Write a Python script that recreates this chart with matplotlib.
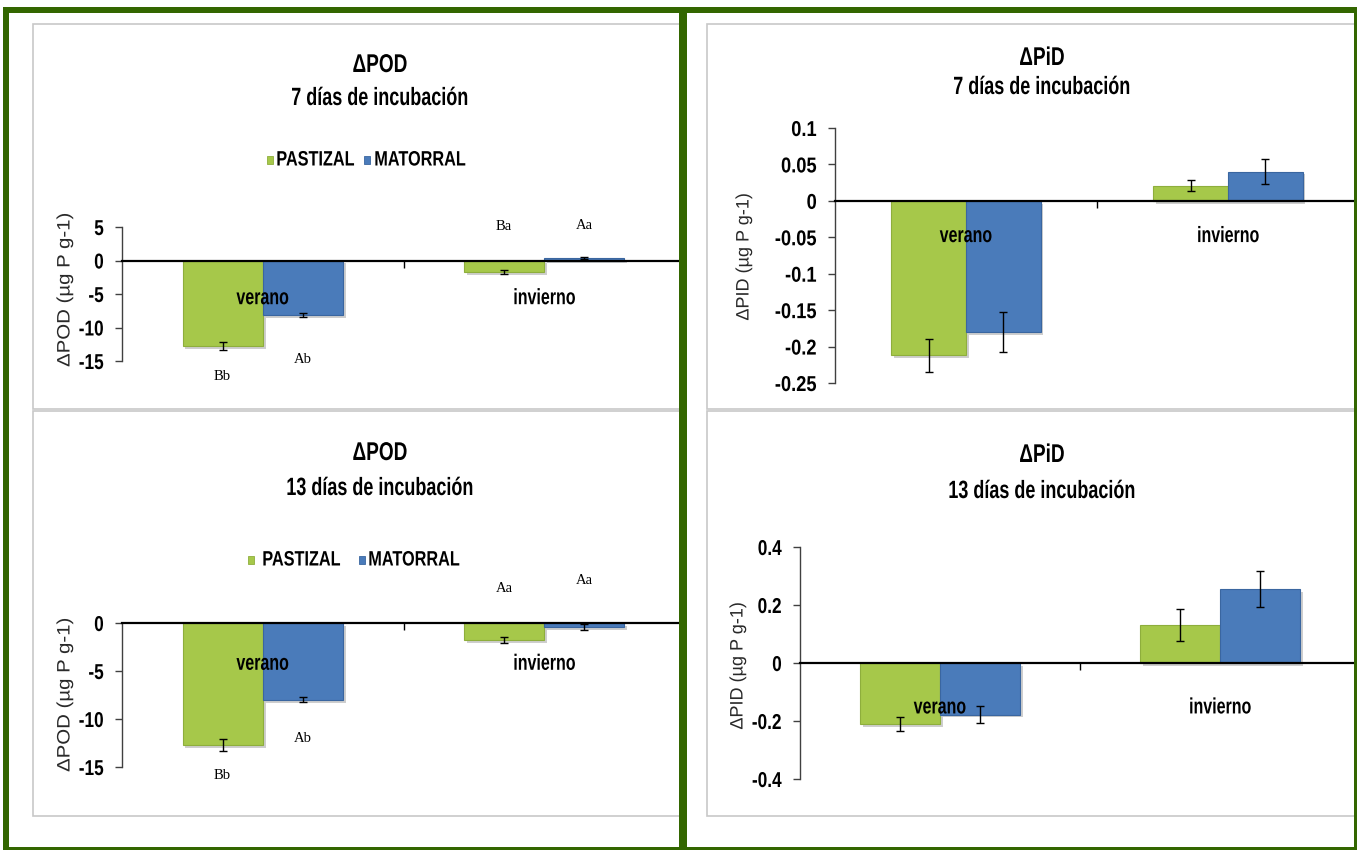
"""
Four Excel-style bar panels: change in POD and PiD after 7 and 13 days
of incubation, pastizal vs matorral, summer and winter.
"""
import numpy as np
import matplotlib
matplotlib.use('Agg')
import matplotlib.pyplot as plt
import matplotlib.patheffects as pe
from matplotlib.patches import Rectangle
from matplotlib.ticker import FuncFormatter
from matplotlib.transforms import Affine2D

W, H = 1357, 850

SANS = ['Liberation Sans', 'DejaVu Sans']
plt.rcParams['font.family'] = SANS
plt.rcParams['font.weight'] = 'bold'

# data
CATEGORIES = ['verano', 'invierno']
SERIES = ['PASTIZAL', 'MATORRAL']

POD7_PASTIZAL = [-12.8, -1.7]
POD7_PASTIZAL_ERR = [0.6, 0.25]
POD7_MATORRAL = [-8.1, 0.4]
POD7_MATORRAL_ERR = [0.3, 0.12]
POD7_LETTERS_PASTIZAL = ['Bb', 'Ba']
POD7_LETTERS_MATORRAL = ['Ab', 'Aa']

POD13_PASTIZAL = [-12.7, -1.8]
POD13_PASTIZAL_ERR = [0.6, 0.3]
POD13_MATORRAL = [-8.0, -0.4]
POD13_MATORRAL_ERR = [0.25, 0.3]
POD13_LETTERS_PASTIZAL = ['Bb', 'Aa']
POD13_LETTERS_MATORRAL = ['Ab', 'Aa']

PID7_PASTIZAL = [-0.212, 0.021]
PID7_PASTIZAL_ERR = [0.023, 0.008]
PID7_MATORRAL = [-0.180, 0.040]
PID7_MATORRAL_ERR = [0.027, 0.017]

PID13_PASTIZAL = [-0.210, 0.130]
PID13_PASTIZAL_ERR = [0.025, 0.055]
PID13_MATORRAL = [-0.178, 0.255]
PID13_MATORRAL_ERR = [0.030, 0.062]

# styles
GREEN = '#a6c84a'
GREEN_EDGE = '#8eae3c'
BLUE = '#4a7bba'
BLUE_EDGE = '#3a66a0'
FRAME = '#336600'
BOX = '#c8c8c8'
BAR_W = 0.285
ERR_KW = dict(ecolor='black', elinewidth=1, capsize=3, capthick=1, zorder=4)
SHADOW = [pe.SimplePatchShadow(offset=(2, -2), shadow_rgbFace='0.45', alpha=0.35),
          pe.Normal()]


class Squeeze(pe.AbstractPathEffect):
    """squash text horizontally, the chart used a narrow font"""

    def __init__(self, sx, anchor='center'):
        super().__init__()
        self.sx = sx
        self.anchor = anchor

    def draw_path(self, renderer, gc, tpath, affine, rgbFace=None):
        ext = tpath.get_extents()
        cx = {'left': ext.x0, 'right': ext.x1}.get(self.anchor,
                                                     (ext.x0 + ext.x1) / 2)
        pre = Affine2D().translate(-cx, 0).scale(self.sx, 1).translate(cx, 0)
        renderer.draw_path(gc, tpath, pre + affine, rgbFace)


fig = plt.figure(figsize=(W / 100, H / 100), dpi=100)


def px_axes(x0, y0, x1, y1):
    return fig.add_axes([x0 / W, 1 - y1 / H, (x1 - x0) / W, (y1 - y0) / H])


def ftext(x, y, s, sx=None, **kw):
    kw.setdefault('ha', 'center')
    t = fig.text(x / W, 1 - y / H, s, va='center', **kw)
    if sx:
        t.set_path_effects([Squeeze(sx, kw['ha'])])
    return t


def title(x, y1, y2, line1, line2):
    ftext(x, y1, line1, sx=0.74, fontsize=18.5)
    ftext(x, y2, line2, sx=0.72, fontsize=18)


def ylabel(x, y, s, sx):
    ftext(x, y, s, sx=sx, fontsize=13, rotation=90, weight='normal',
          color='#2a2a2a')


def legend(y, xs):
    # xs: marker x and text x for each series
    for (mx, tx), name, col, ec in zip(xs, SERIES, [GREEN, BLUE],
                                      [GREEN_EDGE, BLUE_EDGE]):
        fig.add_artist(Rectangle(((mx - 3) / W, 1 - (y + 4) / H), 6 / W,
                                 8 / H, transform=fig.transFigure,
                                 facecolor=col, edgecolor=ec, lw=0.6))
        ftext(tx, y, name, sx=0.78, fontsize=15, ha='left')


def panel(box, ylim, yticks, past, past_err, mato, mato_err, cat_y, tick_sx):
    ax = px_axes(*box)
    x = np.arange(len(CATEGORIES))
    b1 = ax.bar(x - BAR_W / 2, past, BAR_W, yerr=past_err, color=GREEN,
                edgecolor=GREEN_EDGE, linewidth=0.8, error_kw=ERR_KW, zorder=2)
    b2 = ax.bar(x + BAR_W / 2, mato, BAR_W, yerr=mato_err, color=BLUE,
                edgecolor=BLUE_EDGE, linewidth=0.8, error_kw=ERR_KW, zorder=2)
    for p in list(b1) + list(b2):
        p.set_path_effects(SHADOW)

    ax.set_xlim(-0.5, 1.5)
    ax.set_ylim(*ylim)
    ax.set_yticks(yticks)
    ax.yaxis.set_major_formatter(FuncFormatter(lambda v, pos: f'{v:g}'))
    ax.tick_params(axis='y', direction='out', length=5, width=1,
                   color='#404040', labelsize=15.5, pad=8)
    for lbl in ax.get_yticklabels():
        lbl.set_path_effects([Squeeze(tick_sx, 'right')])
    ax.set_xticks([])
    for side in ['top', 'right', 'bottom']:
        ax.spines[side].set_visible(False)
    ax.spines['left'].set_color('#404040')
    ax.spines['left'].set_linewidth(1)
    ax.patch.set_alpha(0)

    # horizontal category axis through zero
    ax.axhline(0, color='black', lw=1.6, zorder=3, clip_on=False)
    ax.plot([0.5, 1.5], [0, 0], ls='none', marker=3, ms=5, mew=1,
            color='black', clip_on=False, zorder=3)
    for i, cat in enumerate(CATEGORIES):
        t = ax.text(i, cat_y, cat, ha='center', va='center', fontsize=16,
                    zorder=5, clip_on=False)
        t.set_path_effects([Squeeze(0.72)])
    return ax


def letters(ax, past_lbl, mato_lbl, past_y, mato_y):
    for i in range(len(CATEGORIES)):
        ax.text(i - BAR_W / 2, past_y[i], past_lbl[i], ha='center',
                va='center', fontsize=10.5, family='Liberation Serif',
                weight='normal', clip_on=False)
        ax.text(i + BAR_W / 2, mato_y[i], mato_lbl[i], ha='center',
                va='center', fontsize=10.5, family='Liberation Serif',
                weight='normal', clip_on=False)


# light grey chart boxes
for (x0, y0, x1, y1) in [(33, 24, 683, 409), (33, 411, 683, 816),
                         (707, 24, 1356, 409), (707, 411, 1356, 816)]:
    fig.add_artist(Rectangle((x0 / W, 1 - y1 / H), (x1 - x0) / W,
                             (y1 - y0) / H, transform=fig.transFigure,
                             facecolor='white', edgecolor=BOX, lw=1.2,
                             zorder=-1))

# top left: POD 7 days
ax = panel((122, 227, 685, 361), (-15, 5), [5, 0, -5, -10, -15],
           POD7_PASTIZAL, POD7_PASTIZAL_ERR,
           POD7_MATORRAL, POD7_MATORRAL_ERR, -5.7, 0.8)
letters(ax, POD7_LETTERS_PASTIZAL, POD7_LETTERS_MATORRAL,
        [-17.3, 5.0], [-14.8, 5.2])
title(380, 65, 98, '\u0394POD', '7 días de incubación')
legend(160, [(270, 276), (367, 374)])
ylabel(65, 290, '\u0394POD (µg P g-1)', 1.13)

# bottom left: POD 13 days
ax = panel((122, 623, 685, 767), (-15, 0), [0, -5, -10, -15],
           POD13_PASTIZAL, POD13_PASTIZAL_ERR,
           POD13_MATORRAL, POD13_MATORRAL_ERR, -4.3, 0.8)
letters(ax, POD13_LETTERS_PASTIZAL, POD13_LETTERS_MATORRAL,
        [-15.9, 3.6], [-12.0, 4.4])
title(380, 453, 488, '\u0394POD', '13 días de incubación')
legend(560, [(251, 262), (362, 368)])
ylabel(65, 695, '\u0394POD (µg P g-1)', 1.13)

# top right: PiD 7 days
ax = panel((835, 128, 1359, 383), (-0.25, 0.1),
           [0.1, 0.05, 0, -0.05, -0.1, -0.15, -0.2, -0.25],
           PID7_PASTIZAL, PID7_PASTIZAL_ERR,
           PID7_MATORRAL, PID7_MATORRAL_ERR, -0.049, 0.85)
title(1042, 58, 87, '\u0394PiD', '7 días de incubación')
ylabel(744, 257, '\u0394PID (µg P g-1)', 1.0)

# bottom right: PiD 13 days
ax = panel((800, 547, 1360, 779), (-0.4, 0.4),
           [0.4, 0.2, 0, -0.2, -0.4],
           PID13_PASTIZAL, PID13_PASTIZAL_ERR,
           PID13_MATORRAL, PID13_MATORRAL_ERR, -0.155, 0.8)
title(1042, 455, 491, '\u0394PiD', '13 días de incubación')
ylabel(738, 666, '\u0394PID (µg P g-1)', 1.0)

# dark green frame on top of everything
for (x0, y0, x1, y1) in [(3, 7, 1357, 13), (3, 7, 9, 850),
                         (679, 7, 687, 850), (1354, 7, 1357, 850),
                         (3, 847, 1357, 850)]:
    fig.add_artist(Rectangle((x0 / W, 1 - y1 / H), (x1 - x0) / W,
                             (y1 - y0) / H, transform=fig.transFigure,
                             facecolor=FRAME, edgecolor='none', zorder=20))

fig.savefig('out.png', dpi=100)
